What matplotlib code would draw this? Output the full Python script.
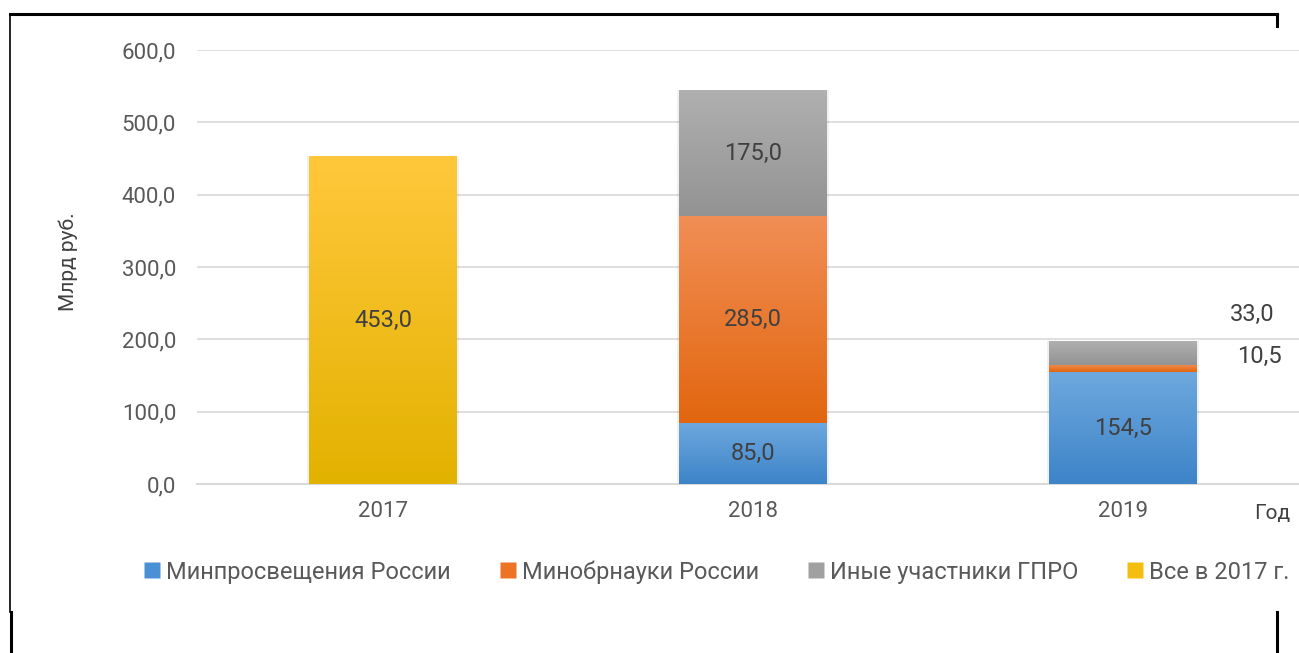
import numpy as np
import matplotlib.pyplot as plt
from matplotlib.colors import LinearSegmentedColormap
from matplotlib.lines import Line2D

plt.rcParams['font.family'] = ['Roboto', 'DejaVu Sans']

years = ['2017', '2018', '2019']
minpros = [0.0, 85.0, 154.5]
minobr = [0.0, 285.0, 10.5]
others = [0.0, 175.0, 33.0]
all2017 = [453.0, 0.0, 0.0]

series_names = ['Минпросвещения России', 'Минобрнауки России',
                'Иные участники ГПРО', 'Все в 2017 г.']
# (top, bottom) shades for the vertical gradient of each series
shades = [('#6EA8DE', '#3D84C8'), ('#F18E55', '#E2660F'),
          ('#B0B0B0', '#939393'), ('#FFC83C', '#E2B200')]
legend_cols = ['#4A90D4', '#EC7424', '#A0A0A0', '#F4BE10']

W, H = 1299, 653
fig = plt.figure(figsize=(W / 100, H / 100), dpi=100)
ax = fig.add_axes([197 / W, (H - 484) / H, (W - 197) / W, 434 / H])

x = np.arange(len(years))
width = 0.4
bottom = np.zeros(len(years))
grad = np.linspace(0, 1, 256).reshape(-1, 1)
for vals, (top, bot), name in zip([minpros, minobr, others, all2017], shades, series_names):
    vals = np.array(vals)
    bars = ax.bar(x, vals, width, bottom=bottom, color='none', edgecolor='none', zorder=3)
    cmap = LinearSegmentedColormap.from_list(name, [bot, top])
    for b, v in zip(bars, vals):
        if v <= 0:
            continue
        x0, y0 = b.get_x(), b.get_y()
        # soft shadow
        ax.bar(x0 + b.get_width() / 2, v, b.get_width() * 1.03, bottom=y0,
               color='#000000', alpha=0.06, zorder=2, edgecolor='none')
        im = ax.imshow(grad, cmap=cmap, origin='lower', aspect='auto',
                       extent=[x0, x0 + b.get_width(), y0, y0 + v], zorder=3)
        im.set_clip_path(b)
    bottom = bottom + vals

ax.set_xlim(-0.503, 2.476)
ax.set_ylim(0, 600)

# data labels
seg_bottom = np.zeros(len(years))
for vals in [minpros, minobr, others, all2017]:
    for i, v in enumerate(vals):
        if v >= 50:
            ax.text(x[i], seg_bottom[i] + v / 2, f'{v:.1f}'.replace('.', ','),
                    ha='center', va='center', fontsize=17, color='#404040', zorder=5)
    seg_bottom = seg_bottom + np.array(vals)
# small 2019 segments labelled outside the bar
ax.text(x[2] + 0.41, minpros[2] + minobr[2] + 70, f'{others[2]:.1f}'.replace('.', ','),
        ha='right', va='center', fontsize=17, color='#404040')
ax.text(x[2] + 0.43, minpros[2] + 22, f'{minobr[2]:.1f}'.replace('.', ','),
        ha='right', va='center', fontsize=17, color='#404040')

ax.set_yticks(np.arange(0, 601, 100))
ax.set_yticklabels([f'{t:.1f}'.replace('.', ',') for t in np.arange(0, 601, 100)])
ax.set_xticks(x)
ax.set_xticklabels(years)
ax.tick_params(axis='both', length=0, labelsize=16, colors='#595959')
ax.tick_params(axis='y', pad=15)
ax.tick_params(axis='x', pad=12)
ax.grid(axis='y', color='#D9D9D9', linewidth=1.2, zorder=0)
ax.set_axisbelow(True)
for s in ['top', 'right', 'left']:
    ax.spines[s].set_visible(False)
ax.spines['bottom'].set_color('#D9D9D9')
ax.spines['bottom'].set_linewidth(1.5)

fig.text(68 / W, 1 - 262 / H, 'Млрд руб.', rotation=90, ha='center', va='center',
         fontsize=15, color='#404040')
fig.text(1272 / W, 1 - 513 / H, 'Год', ha='center', va='center',
         fontsize=15, color='#404040')

handles = [Line2D([], [], marker='s', linestyle='none', markersize=11,
                  markerfacecolor=c, markeredgecolor='none') for c in legend_cols]
fig.legend(handles, series_names, loc='center', bbox_to_anchor=(715 / W, 1 - 572 / H),
           ncol=4, frameon=False, fontsize=17, labelcolor='#595959',
           handletextpad=0.1, columnspacing=1.9, handlelength=1.0)

# outer frame fragments
lk = dict(color='black', transform=None)
fig.add_artist(Line2D([10, 1277], [H - 14, H - 14], linewidth=2.2, **lk))
fig.add_artist(Line2D([10, 10], [H - 14, H - 612], linewidth=1.2, **lk))
fig.add_artist(Line2D([11, 11], [H - 612, 0], linewidth=2.2, **lk))
fig.add_artist(Line2D([1277, 1277], [H - 14, H - 26], linewidth=2.2, **lk))
fig.add_artist(Line2D([1277, 1277], [H - 612, 0], linewidth=2.2, **lk))

fig.savefig('out.png', dpi=100)
